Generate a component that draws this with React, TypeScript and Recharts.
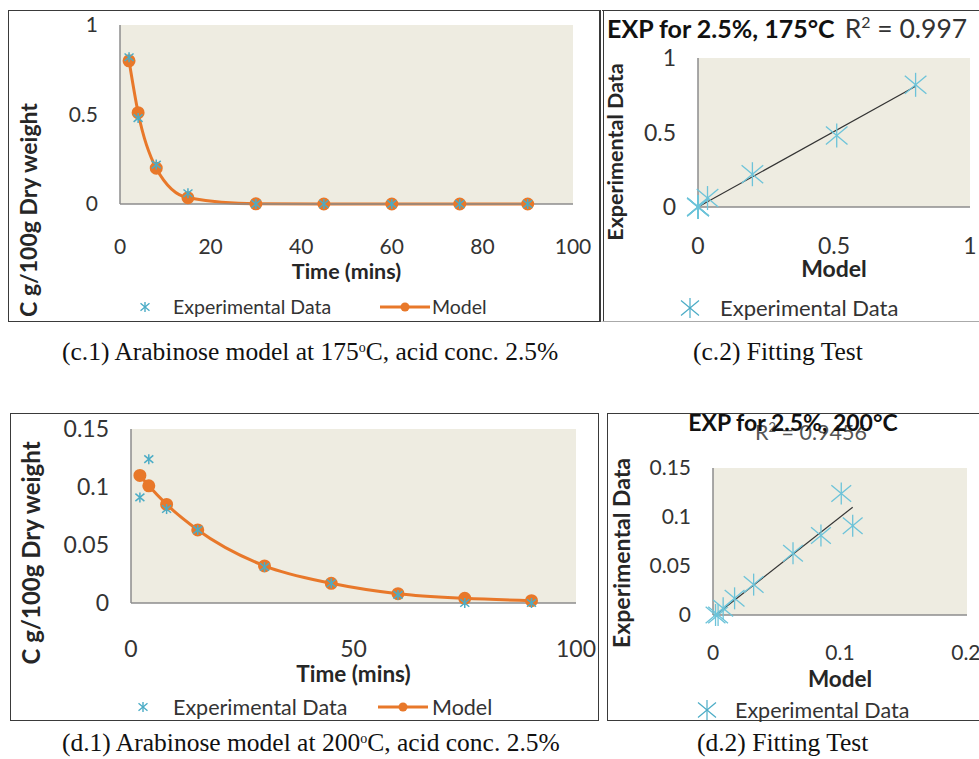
import React from 'react';
import {
  ComposedChart,
  Line,
  Scatter,
  XAxis,
  YAxis,
  CartesianGrid,
  Legend,
  Label,
} from 'recharts';

// sampling times (mins), shared by both runs
const TIME_MIN = [2, 4, 8, 15, 30, 45, 60, 75, 90];

// 175 C, acid conc. 2.5%
const EXP_175 = [0.82, 0.48, 0.22, 0.06, 0, 0, 0, 0, 0];
const MODEL_175 = [0.8, 0.51, 0.2, 0.035, 0.001, 0, 0, 0, 0];
const TREND_175_X = [0, 0.8];
const TREND_175_Y = [0, 0.81];

// 200 C, acid conc. 2.5%
const EXP_200 = [0.091, 0.124, 0.081, 0.063, 0.031, 0.017, 0.007, 0, 0];
const MODEL_200 = [0.11, 0.101, 0.085, 0.063, 0.032, 0.017, 0.008, 0.004, 0.002];
const TREND_200_X = [0.002, 0.11];
const TREND_200_Y = [0, 0.11];

const TIME_TICKS_175 = [0, 20, 40, 60, 80, 100];
const CONC_TICKS_175 = [0, 0.5, 1];
const FIT_TICKS_175 = [0, 0.5, 1];
const TIME_TICKS_200 = [0, 50, 100];
const CONC_TICKS_200 = [0, 0.05, 0.1, 0.15];
const FIT_X_TICKS_200 = [0, 0.1, 0.2];
const FIT_Y_TICKS_200 = [0, 0.05, 0.1, 0.15];

const ORANGE = '#E8782A';
const TEAL = '#4BACC6';
const BEIGE = '#EEECE1';
const AXIS = '#8C8C8C';
const INK = '#262626';

const timeRows = (model: number[], exp: number[]) =>
  TIME_MIN.map((t, i) => ({ t, model: model[i], exp: exp[i] }));
const fitRows = (model: number[], exp: number[]) =>
  model.map((x, i) => ({ x, y: exp[i] }));
const trendRows = (xs: number[], ys: number[]) =>
  xs.map((x, i) => ({ x, y: ys[i] }));

function Star({ cx, cy, r, color, w }: any) {
  if (cx == null || cy == null) return null;
  const dx = r * 0.9;
  const dy = r * 0.75;
  return (
    <g stroke={color} strokeWidth={w} fill="none">
      <line x1={cx} y1={cy - r} x2={cx} y2={cy + r} />
      <line x1={cx - dx} y1={cy - dy} x2={cx + dx} y2={cy + dy} />
      <line x1={cx - dx} y1={cy + dy} x2={cx + dx} y2={cy - dy} />
    </g>
  );
}

const starShape = (r: number, color: string, w: number) => (p: any) => (
  <Star cx={p.cx} cy={p.cy} r={r} color={color} w={w} />
);

const yTitle = (text: string, x: number, y: number, size: number) => () => (
  <text
    x={x}
    y={y}
    transform={`rotate(-90, ${x}, ${y})`}
    textAnchor="middle"
    dominantBaseline="central"
    fontSize={size}
    fontWeight={700}
    fill={INK}
  >
    {text}
  </text>
);

function TimeLegend({ star, text, line, model, size }: any) {
  return (
    <div style={{ position: 'relative', height: 26, fontSize: size, color: '#333' }}>
      <svg style={{ position: 'absolute', left: star - 8, top: 5 }} width={16} height={16}>
        <Star cx={8} cy={8} r={5} color={TEAL} w={1.4} />
      </svg>
      <span style={{ position: 'absolute', left: text, top: 0, lineHeight: '26px' }}>
        Experimental Data
      </span>
      <svg style={{ position: 'absolute', left: line, top: 3 }} width={50} height={20}>
        <line x1={0} y1={10} x2={50} y2={10} stroke={ORANGE} strokeWidth={3} />
        <circle cx={25} cy={10} r={4.5} fill={ORANGE} />
      </svg>
      <span style={{ position: 'absolute', left: model, top: 0, lineHeight: '26px' }}>Model</span>
    </div>
  );
}

function FitLegend({ star, text, size }: any) {
  return (
    <div style={{ position: 'relative', height: 26, fontSize: size, color: '#333' }}>
      <svg style={{ position: 'absolute', left: star - 12, top: 1 }} width={24} height={24}>
        <Star cx={12} cy={12} r={10} color={TEAL} w={1.2} />
      </svg>
      <span style={{ position: 'absolute', left: text, top: 0, lineHeight: '26px' }}>
        Experimental Data
      </span>
    </div>
  );
}

function TimeChart(props: any) {
  const { w, h, m, yw, xh, xTicks, yTicks, yDomain, rows, xTitleOff, yT, lg, xm, fs, ts, ys } = props;
  const tick = { fill: '#333', fontSize: fs };
  return (
    <ComposedChart width={w} height={h} data={rows} margin={{ top: m[0], right: m[1], bottom: 0, left: 0 }}>
      <CartesianGrid fill={BEIGE} horizontal={false} vertical={false} />
      <XAxis
        type="number"
        dataKey="t"
        domain={[0, 100]}
        ticks={xTicks}
        height={xh}
        tick={tick}
        tickLine={false}
        tickSize={0}
        tickMargin={xm}
        axisLine={{ stroke: AXIS, strokeWidth: 1.5 }}
      >
        <Label value="Time (mins)" position="insideBottom" offset={xTitleOff} fontSize={ts} fontWeight={700} fill={INK} />
      </XAxis>
      <YAxis
        type="number"
        domain={yDomain}
        ticks={yTicks}
        width={yw}
        tick={tick}
        tickLine={false}
        tickSize={0}
        tickMargin={22}
        axisLine={{ stroke: AXIS, strokeWidth: 1.5 }}
      >
        <Label content={yTitle('C g/100g Dry weight', yT[0], yT[1], ys)} />
      </YAxis>
      <Line
        type="monotone"
        dataKey="model"
        name="Model"
        stroke={ORANGE}
        strokeWidth={3}
        dot={{ r: 5, fill: ORANGE, stroke: ORANGE }}
        isAnimationActive={false}
      />
      <Scatter
        dataKey="exp"
        name="Experimental Data"
        shape={starShape(5, TEAL, 1.5)}
        zIndex={700}
        isAnimationActive={false}
      />
      <Legend
        verticalAlign="middle"
        align="center"
        layout="horizontal"
        wrapperStyle={{ top: lg.top, left: 0, width: w, height: 26 }}
        content={() => <TimeLegend {...lg} />}
      />
    </ComposedChart>
  );
}

function FitChart(props: any) {
  const { w, h, m, yw, xh, xDomain, yDomain, xTicks, yTicks, pts, trend, xTitleOff, yT, lg, xm, fs, ts, ys, sr } = props;
  const tick = { fill: '#333', fontSize: fs };
  return (
    <ComposedChart width={w} height={h} margin={{ top: m[0], right: m[1], bottom: 0, left: 0 }}>
      <CartesianGrid fill={BEIGE} horizontal={false} vertical={false} />
      <XAxis
        type="number"
        dataKey="x"
        domain={xDomain}
        ticks={xTicks}
        height={xh}
        tick={tick}
        tickLine={false}
        tickSize={0}
        tickMargin={xm}
        axisLine={{ stroke: AXIS, strokeWidth: 1.5 }}
      >
        <Label value="Model" position="insideBottom" offset={xTitleOff} fontSize={ts} fontWeight={700} fill={INK} />
      </XAxis>
      <YAxis
        type="number"
        dataKey="y"
        domain={yDomain}
        ticks={yTicks}
        width={yw}
        tick={tick}
        tickLine={false}
        tickSize={0}
        tickMargin={22}
        axisLine={{ stroke: AXIS, strokeWidth: 1.5 }}
      >
        <Label content={yTitle('Experimental Data', yT[0], yT[1], ys)} />
      </YAxis>
      <Scatter
        data={pts}
        dataKey="y"
        name="Experimental Data"
        shape={starShape(sr, '#6CC3D9', 1.3)}
        isAnimationActive={false}
      />
      <Line
        data={trend}
        dataKey="y"
        type="linear"
        stroke="#333"
        strokeWidth={1.2}
        dot={false}
        legendType="none"
        isAnimationActive={false}
      />
      <Legend
        verticalAlign="middle"
        align="center"
        layout="horizontal"
        wrapperStyle={{ top: lg.top, left: 0, width: w, height: 26 }}
        content={() => <FitLegend {...lg} />}
      />
    </ComposedChart>
  );
}

const abs = (left: number, top: number, width: number, height: number): React.CSSProperties => ({
  position: 'absolute',
  left,
  top,
  width,
  height,
});

const frame = (left: number, top: number, width: number, height: number, extra: React.CSSProperties = {}) => (
  <div style={{ ...abs(left, top, width, height), boxSizing: 'border-box', border: '1.5px solid #3a3a3a', ...extra }} />
);

const caption: React.CSSProperties = {
  position: 'absolute',
  fontFamily: '"Liberation Serif", serif',
  fontSize: 25.5,
  lineHeight: '28px',
  color: '#111',
  whiteSpace: 'nowrap',
};

const sup = <sup style={{ fontSize: '55%', verticalAlign: '0.55em', lineHeight: 0 }}>o</sup>;

export default function App() {
  return (
    <div style={{ ...abs(0, 0, 979, 759), background: '#fff', fontFamily: 'Lato, sans-serif', overflow: 'hidden' }}>
      {frame(8, 10, 592, 312)}
      {frame(600, 10, 385, 312, { borderLeft: '4px double #3a3a3a', borderBottom: '1px solid #aaa' })}
      {frame(10, 413, 589, 308)}
      {frame(607, 413, 378, 308)}

      <div style={abs(8, 10, 590, 312)}>
        <TimeChart
          w={590}
          h={312}
          m={[15, 25]}
          yw={112}
          xh={118}
          xm={35}
          fs={21}
          ts={21.5}
          ys={23}
          xTicks={TIME_TICKS_175}
          yTicks={CONC_TICKS_175}
          yDomain={[0, 1]}
          rows={timeRows(MODEL_175, EXP_175)}
          xTitleOff={43}
          yT={[20, 200]}
          lg={{ top: 284, star: 137, text: 165, line: 372, model: 424, size: 19.5 }}
        />
      </div>

      <div style={abs(600, 10, 379, 312)}>
        <FitChart
          w={379}
          h={312}
          m={[48, 9]}
          yw={98}
          xh={115}
          xm={31}
          fs={23}
          ts={23}
          ys={21.5}
          sr={12}
          xDomain={[0, 1]}
          yDomain={[0, 1]}
          xTicks={FIT_TICKS_175}
          yTicks={FIT_TICKS_175}
          pts={fitRows(MODEL_175, EXP_175)}
          trend={trendRows(TREND_175_X, TREND_175_Y)}
          xTitleOff={45}
          yT={[15, 142]}
          lg={{ top: 285, star: 90, text: 120, size: 22 }}
        />
      </div>
      <div style={{ position: 'absolute', left: 607, top: 12, lineHeight: '32px', whiteSpace: 'nowrap', color: '#111' }}>
        <span style={{ fontSize: 25, fontWeight: 700 }}>EXP for 2.5%, 175°C</span>
        <span style={{ fontSize: 26.5, marginLeft: 10, color: '#333' }}>
          R<sup style={{ fontSize: '60%', lineHeight: 0 }}>2</sup> = 0.997
        </span>
      </div>

      <div style={abs(10, 413, 588, 307)}>
        <TimeChart
          w={588}
          h={307}
          m={[16, 22]}
          yw={121}
          xh={117}
          xm={38}
          fs={23}
          ts={22.5}
          ys={24}
          xTicks={TIME_TICKS_200}
          yTicks={CONC_TICKS_200}
          yDomain={[0, 0.15]}
          rows={timeRows(MODEL_200, EXP_200)}
          xTitleOff={38}
          yT={[20, 140]}
          lg={{ top: 281, star: 133, text: 163, line: 368, model: 422, size: 21.5 }}
        />
      </div>

      <div style={abs(607, 413, 372, 307)}>
        <FitChart
          w={372}
          h={307}
          m={[55, 12]}
          yw={106}
          xh={105}
          xm={30}
          fs={21}
          ts={22.5}
          ys={23}
          sr={11}
          xDomain={[0, 0.2]}
          yDomain={[0, 0.15]}
          xTicks={FIT_X_TICKS_200}
          yTicks={FIT_Y_TICKS_200}
          pts={fitRows(MODEL_200, EXP_200)}
          trend={trendRows(TREND_200_X, TREND_200_Y)}
          xTitleOff={33}
          yT={[14, 140]}
          lg={{ top: 284, star: 100, text: 128, size: 21.5 }}
        />
      </div>
      <div style={{ position: 'absolute', left: 611, width: 400, top: 421, textAlign: 'center', color: '#555', fontSize: 21.5, lineHeight: '22px' }}>
        R<sup style={{ fontSize: '60%', lineHeight: 0 }}>2</sup> = 0.9456
      </div>
      <div style={{ position: 'absolute', left: 593, width: 400, top: 409, textAlign: 'center', color: '#111', fontSize: 23, fontWeight: 700, lineHeight: '26px' }}>
        EXP for 2.5%, 200°C
      </div>

      <div style={{ ...caption, left: 62, top: 338 }}>(c.1) Arabinose model at 175{sup}C, acid conc. 2.5%</div>
      <div style={{ ...caption, left: 693, top: 338 }}>(c.2) Fitting Test</div>
      <div style={{ ...caption, left: 62, top: 729 }}>(d.1) Arabinose model at 200{sup}C, acid conc. 2.5%</div>
      <div style={{ ...caption, left: 697, top: 729 }}>(d.2) Fitting Test</div>
    </div>
  );
}
